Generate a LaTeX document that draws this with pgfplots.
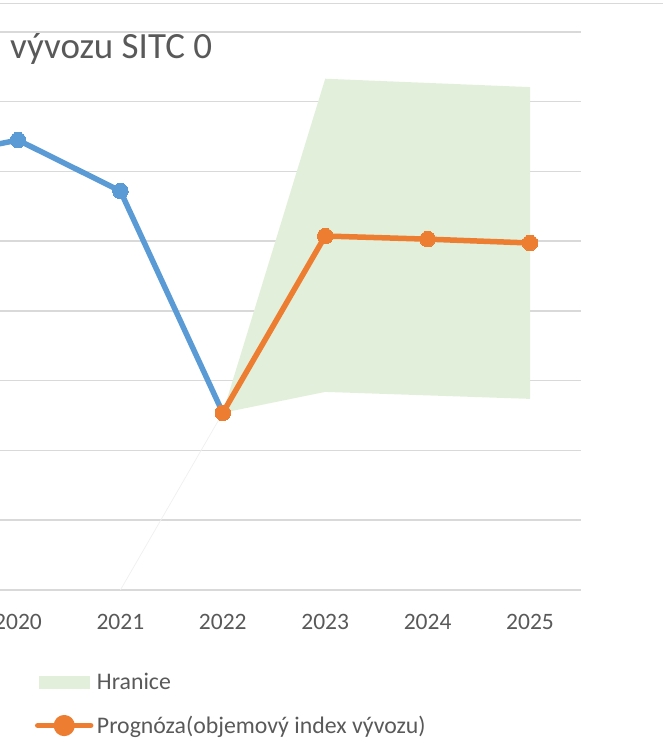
\documentclass[border=0pt]{standalone}
\usepackage{pgfplots}
\pgfplotsset{compat=1.18}
\usepackage{fontspec}
\setmainfont{Carlito}
\definecolor{gridc}{HTML}{D9D9D9}
\definecolor{txt}{HTML}{595959}
\definecolor{blu}{HTML}{5B9BD5}
\definecolor{ora}{HTML}{ED7D31}
\definecolor{grn}{HTML}{E2EFDA}
\begin{document}
\begin{tikzpicture}[x=1bp,y=1bp]
\useasboundingbox (0,0) rectangle (663,756);
\clip (0,0) rectangle (663,756);
\draw[gridc, line width=1.5bp] (0,752.5) -- (663,752.5);
\node[anchor=base west, inner sep=0, text=txt, font=\fontsize{37bp}{44bp}\selectfont] at (10,697.7) {vývozu SITC 0};
\begin{axis}[
  at={(-33.2bp,166bp)}, anchor=south west,
  width=614.4bp, height=558bp, scale only axis,
  xmin=2019.5, xmax=2025.5, ymin=60, ymax=140,
  xtick={2020,2021,2022,2023,2024,2025},
  xticklabels={2020,2021,2022,2023,2024,2025},
  ytick={60,70,...,140}, yticklabels={},
  ymajorgrids, grid style={gridc, line width=1.5bp},
  axis line style={draw=none}, major tick length=0pt,
  xticklabel style={font=\fontsize{23.5bp}{28bp}\selectfont, text=txt, anchor=base, yshift=-39.5bp},
  legend style={at={(axis description cs:0.11100,-0.15233)}, anchor=north west,
    draw=none, fill=none, inner sep=0pt, outer sep=0pt, row sep=25bp, column sep=3.5bp,
    font=\fontsize{23.8bp}{28bp}\selectfont, text=txt,
    nodes={inner sep=0pt, text height=15bp, text depth=0bp}},
  legend cell align=left,
]
\addplot[draw=none, fill=grn,
  legend image code/.code={\fill[grn] (2bp,-6.5bp) rectangle (53bp,6.5bp);}]
  coordinates {(2022,85.4) (2023,133.3) (2024,132.7) (2025,132.1) (2025,87.4) (2024,87.9) (2023,88.4) (2022,85.4)};
\addlegendentry{Hranice}
\addplot[black!6, line width=0.75bp, forget plot] coordinates {(2021,60) (2022,85.4)};
\addplot[blu, line width=5.5bp, line join=round, mark=*, mark size=7.8bp,
  mark options={fill=blu, draw=blu, line width=0pt}, forget plot]
  coordinates {(2019,121.6) (2020,124.5) (2021,117.2) (2022,85.4)};
\addplot[ora, line width=5.5bp, line join=round, mark=*, mark size=7.8bp,
  mark options={fill=ora, draw=ora, line width=0pt},
  legend image code/.code={\draw[ora, line width=5.5bp, line cap=round] (1bp,0bp) -- (54bp,0bp); \fill[ora] (27.5bp,0bp) circle (7.8bp);}]
  coordinates {(2022,85.4) (2023,110.75) (2024,110.3) (2025,109.75)};
\addlegendentry{Prognóza(objemový index vývozu)}
\end{axis}
\end{tikzpicture}
\end{document}
